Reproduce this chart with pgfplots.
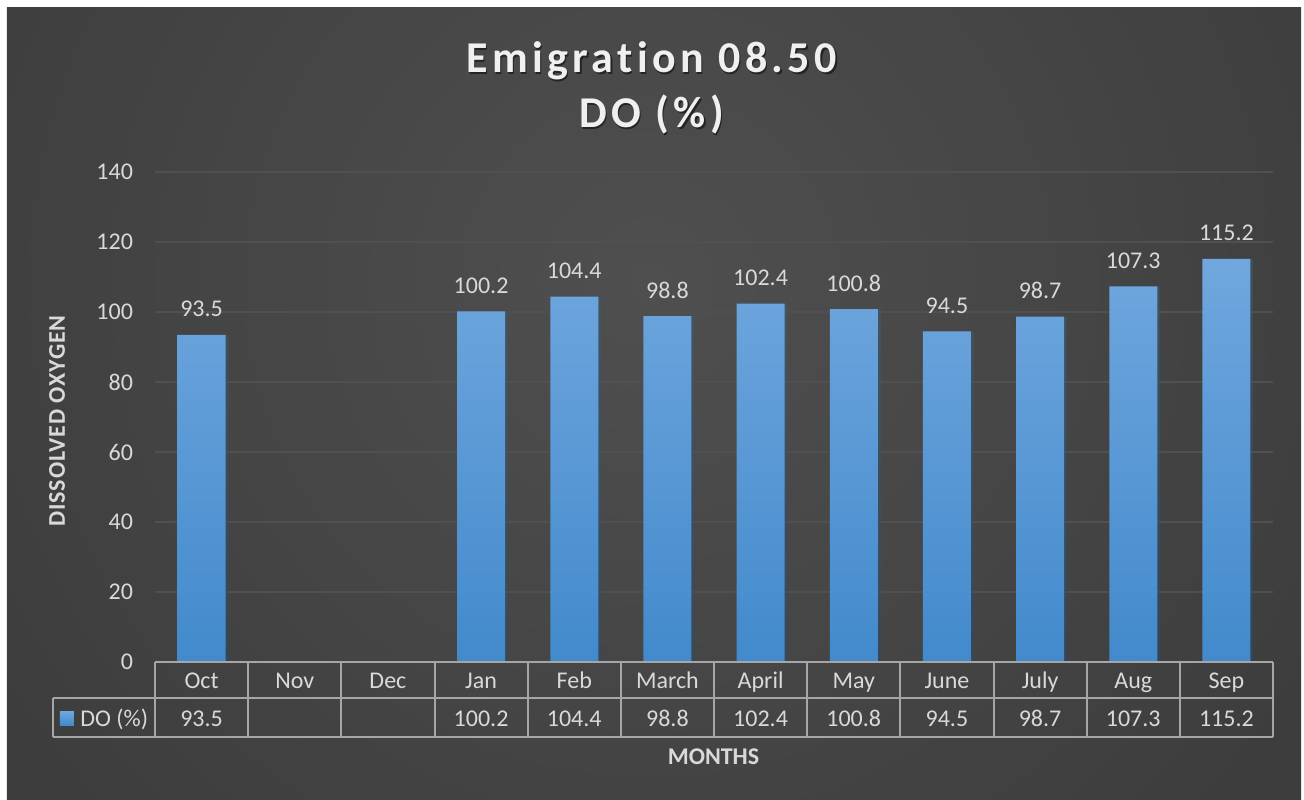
\documentclass[border=0pt]{standalone}
\usepackage{fontspec}
\setmainfont[Ligatures=NoCommon]{Carlito}
\newfontfamily\titlefont[LetterSpace=10,Ligatures=NoCommon]{Carlito}
\newfontfamily\ylabfont[LetterSpace=4,Ligatures=NoCommon]{Carlito}
\usepackage{pgfplots}
\pgfplotsset{compat=1.18}
\definecolor{bgin}{HTML}{4F4F4F}
\definecolor{bgout}{HTML}{262626}
\definecolor{txt}{HTML}{D9D9D9}
\definecolor{titlec}{HTML}{F0F0F0}
\definecolor{gridc}{HTML}{505050}
\definecolor{tabc}{HTML}{A6A6A6}
\definecolor{bartop}{HTML}{70A7DE}
\definecolor{barbot}{HTML}{428ACC}
\pgfdeclareradialshading{bgshade}{\pgfpoint{0bp}{0bp}}{color(0bp)=(bgin); color(50bp)=(bgout)}
\newcommand{\lbl}{\fontsize{12}{14}\selectfont}
\begin{document}
\begin{tikzpicture}
% page and background
\fill[white] (-77.5pt,-68.5pt) rectangle (574.5pt,331pt);
\begin{scope}
\clip (-74pt,-68.5pt) rectangle (573pt,327pt);
\fill[bgout] (-74pt,-68.5pt) rectangle (573pt,327pt);
\shade[shading=bgshade] (247pt,190pt) circle (440pt);
\end{scope}
\begin{axis}[
  at={(0,0)}, anchor=south west, scale only axis,
  width=559pt, height=245pt,
  xmin=-0.5, xmax=11.5, ymin=0, ymax=140,
  ytick={0,20,...,140}, xtick=\empty,
  axis line style={draw=none}, major tick length=0pt,
  ymajorgrids, grid style={gridc, line width=0.8pt},
  tick label style={font=\lbl, color=txt},
  yticklabel style={xshift=-7.5pt},
  /pgf/number format/assume math mode=true,
  ybar, bar width=24pt, clip=false,
]
\addplot[draw=none, top color=bartop, bottom color=barbot,
  preaction={fill=black, fill opacity=0.25, transform canvas={xshift=1.5pt}},
  nodes near coords,
  every node near coord/.append style={anchor=base, yshift=9pt, font=\lbl, color=txt}]
  coordinates {(0,93.5) (3,100.2) (4,104.4) (5,98.8) (6,102.4) (7,100.8)
               (8,94.5) (9,98.7) (10,107.3) (11,115.2)};
\end{axis}
% data table
\begin{scope}[tabc, line width=1pt]
\draw (0,0) -- (559pt,0);
\draw (-51pt,-18pt) -- (559pt,-18pt);
\draw (-51pt,-37.5pt) -- (559pt,-37.5pt);
\draw (-51pt,-18pt) -- (-51pt,-37.5pt);
\foreach \k in {0,...,12} \draw ({\k*46.5833pt},0) -- ({\k*46.5833pt},-37.5pt);
\end{scope}
\foreach \m [count=\i from 0] in {Oct,Nov,Dec,Jan,Feb,March,April,May,June,July,Aug,Sep}
  \node[anchor=base, font=\lbl, color=txt, inner sep=0pt] at ({(\i+0.5)*46.5833pt},-13pt) {\m};
\foreach \v [count=\i from 0] in {93.5,{},{},100.2,104.4,98.8,102.4,100.8,94.5,98.7,107.3,115.2}
  \node[anchor=base, font=\lbl, color=txt, inner sep=0pt] at ({(\i+0.5)*46.5833pt},-32pt) {\v};
\fill[top color=bartop, bottom color=barbot] (-47.5pt,-24.5pt) rectangle (-40.5pt,-31.5pt);
\node[anchor=base west, font=\lbl, color=txt, inner sep=0pt] at (-37.5pt,-32pt) {DO (\%)};
% titles
\foreach \t/\y in {{Emigration 08.50}/294.5pt, {DO (\%)}/267pt}{
  \node[anchor=base, font=\titlefont\bfseries\fontsize{22}{26}\selectfont, color=black, opacity=0.5, inner sep=0pt] at (249pt,\y-0.8pt) {\t};
  \node[anchor=base, font=\titlefont\bfseries\fontsize{22}{26}\selectfont, color=titlec, inner sep=0pt] at (248.25pt,\y) {\t};
}
\node[rotate=90, font=\ylabfont\bfseries\lbl, color=txt, inner sep=0pt] at (-49pt,120.5pt) {DISSOLVED OXYGEN};
\node[font=\bfseries\lbl, color=txt, inner sep=0pt] at (279.25pt,-47.5pt) {MONTHS};
\end{tikzpicture}
\end{document}
